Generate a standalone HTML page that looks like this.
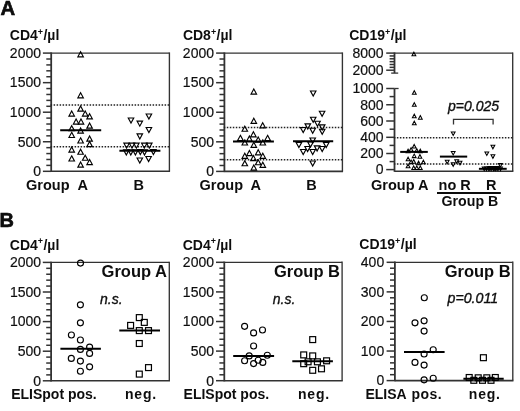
<!DOCTYPE html>
<html><head><meta charset="utf-8"><title>Figure</title>
<style>
html,body{margin:0;padding:0;background:#fff;width:520px;height:411px;overflow:hidden;}
svg{display:block;font-family:"Liberation Sans", sans-serif;}
</style></head><body>
<svg width="520" height="411" viewBox="0 0 520 411" font-family="Liberation Sans, sans-serif">
<rect width="520" height="411" fill="#fff"/>
<defs><filter id="b" x="-2%" y="-2%" width="104%" height="104%"><feGaussianBlur stdDeviation="0.35"/></filter></defs>
<g filter="url(#b)">
<text x="0.4" y="15.2" font-size="20.3" font-weight="bold" font-style="normal" text-anchor="start" fill="#111" stroke="#000" stroke-width="0.6">A</text>
<text x="-0.6" y="226.6" font-size="20" font-weight="bold" font-style="normal" text-anchor="start" fill="#111" stroke="#000" stroke-width="0.6">B</text>
<text x="9.8" y="40.2" font-size="14" font-weight="bold" fill="#111">CD4<tspan font-size="9" dx="0" dy="-5.3">+</tspan><tspan dx="0.4" dy="5.3">/µl</tspan></text>
<text x="182.9" y="40.2" font-size="14" font-weight="bold" fill="#111">CD8<tspan font-size="9" dx="0" dy="-5.3">+</tspan><tspan dx="0.4" dy="5.3">/µl</tspan></text>
<text x="349.2" y="40.2" font-size="14" font-weight="bold" fill="#111">CD19<tspan font-size="9" dx="0" dy="-5.3">+</tspan><tspan dx="0.4" dy="5.3">/µl</tspan></text>
<text x="9.8" y="249.5" font-size="14" font-weight="bold" fill="#111">CD4<tspan font-size="9" dx="0" dy="-5.3">+</tspan><tspan dx="0.4" dy="5.3">/µl</tspan></text>
<text x="182.7" y="249.5" font-size="14" font-weight="bold" fill="#111">CD4<tspan font-size="9" dx="0" dy="-5.3">+</tspan><tspan dx="0.4" dy="5.3">/µl</tspan></text>
<text x="359.3" y="249.3" font-size="14" font-weight="bold" fill="#111">CD19<tspan font-size="9" dx="0" dy="-5.3">+</tspan><tspan dx="0.4" dy="5.3">/µl</tspan></text>
<line x1="51.2" y1="53.1" x2="169.4" y2="53.1" stroke="#333" stroke-width="1.35"/>
<line x1="169.4" y1="52.43" x2="169.4" y2="171.3" stroke="#333" stroke-width="1.35"/>
<line x1="51.2" y1="171.3" x2="170.08" y2="171.3" stroke="#333" stroke-width="1.6"/>
<line x1="51.2" y1="52.4" x2="51.2" y2="172" stroke="#333" stroke-width="1.8"/>
<line x1="42.9" y1="53.1" x2="51.2" y2="53.1" stroke="#333" stroke-width="1.5"/>
<text x="41" y="57.9" font-size="14" font-weight="normal" font-style="normal" text-anchor="end" fill="#111" stroke="#111" stroke-width="0.2">2000</text>
<line x1="42.9" y1="82.65" x2="51.2" y2="82.65" stroke="#333" stroke-width="1.5"/>
<text x="41" y="87.45" font-size="14" font-weight="normal" font-style="normal" text-anchor="end" fill="#111" stroke="#111" stroke-width="0.2">1500</text>
<line x1="42.9" y1="112.2" x2="51.2" y2="112.2" stroke="#333" stroke-width="1.5"/>
<text x="41" y="117" font-size="14" font-weight="normal" font-style="normal" text-anchor="end" fill="#111" stroke="#111" stroke-width="0.2">1000</text>
<line x1="42.9" y1="141.75" x2="51.2" y2="141.75" stroke="#333" stroke-width="1.5"/>
<text x="41" y="146.55" font-size="14" font-weight="normal" font-style="normal" text-anchor="end" fill="#111" stroke="#111" stroke-width="0.2">500</text>
<line x1="42.9" y1="171.3" x2="51.2" y2="171.3" stroke="#333" stroke-width="1.5"/>
<text x="41" y="176.1" font-size="14" font-weight="normal" font-style="normal" text-anchor="end" fill="#111" stroke="#111" stroke-width="0.2">0</text>
<line x1="46.3" y1="59.01" x2="51.2" y2="59.01" stroke="#333" stroke-width="1.5"/>
<line x1="46.3" y1="64.92" x2="51.2" y2="64.92" stroke="#333" stroke-width="1.5"/>
<line x1="46.3" y1="70.83" x2="51.2" y2="70.83" stroke="#333" stroke-width="1.5"/>
<line x1="46.3" y1="76.74" x2="51.2" y2="76.74" stroke="#333" stroke-width="1.5"/>
<line x1="46.3" y1="88.56" x2="51.2" y2="88.56" stroke="#333" stroke-width="1.5"/>
<line x1="46.3" y1="94.47" x2="51.2" y2="94.47" stroke="#333" stroke-width="1.5"/>
<line x1="46.3" y1="100.38" x2="51.2" y2="100.38" stroke="#333" stroke-width="1.5"/>
<line x1="46.3" y1="106.29" x2="51.2" y2="106.29" stroke="#333" stroke-width="1.5"/>
<line x1="46.3" y1="118.11" x2="51.2" y2="118.11" stroke="#333" stroke-width="1.5"/>
<line x1="46.3" y1="124.02" x2="51.2" y2="124.02" stroke="#333" stroke-width="1.5"/>
<line x1="46.3" y1="129.93" x2="51.2" y2="129.93" stroke="#333" stroke-width="1.5"/>
<line x1="46.3" y1="135.84" x2="51.2" y2="135.84" stroke="#333" stroke-width="1.5"/>
<line x1="46.3" y1="147.66" x2="51.2" y2="147.66" stroke="#333" stroke-width="1.5"/>
<line x1="46.3" y1="153.57" x2="51.2" y2="153.57" stroke="#333" stroke-width="1.5"/>
<line x1="46.3" y1="159.48" x2="51.2" y2="159.48" stroke="#333" stroke-width="1.5"/>
<line x1="46.3" y1="165.39" x2="51.2" y2="165.39" stroke="#333" stroke-width="1.5"/>
<line x1="50.6" y1="105.1" x2="169.4" y2="105.1" stroke="#222" stroke-width="1.5" stroke-dasharray="1.5 1.5"/>
<line x1="50.6" y1="146.7" x2="169.4" y2="146.7" stroke="#222" stroke-width="1.5" stroke-dasharray="1.5 1.5"/>
<path d="M80.6 51.75L83.35 56.85L77.85 56.85Z" fill="none" stroke="#000" stroke-width="1.15" stroke-linejoin="miter"/>
<path d="M80.6 92.75L83.35 97.85L77.85 97.85Z" fill="none" stroke="#000" stroke-width="1.15" stroke-linejoin="miter"/>
<path d="M80.6 106.05L83.35 111.15L77.85 111.15Z" fill="none" stroke="#000" stroke-width="1.15" stroke-linejoin="miter"/>
<path d="M71.7 110.95L74.45 116.05L68.95 116.05Z" fill="none" stroke="#000" stroke-width="1.15" stroke-linejoin="miter"/>
<path d="M85.2 110.95L87.95 116.05L82.45 116.05Z" fill="none" stroke="#000" stroke-width="1.15" stroke-linejoin="miter"/>
<path d="M89.6 113.75L92.35 118.85L86.85 118.85Z" fill="none" stroke="#000" stroke-width="1.15" stroke-linejoin="miter"/>
<path d="M76.1 118.95L78.85 124.05L73.35 124.05Z" fill="none" stroke="#000" stroke-width="1.15" stroke-linejoin="miter"/>
<path d="M81 118.95L83.75 124.05L78.25 124.05Z" fill="none" stroke="#000" stroke-width="1.15" stroke-linejoin="miter"/>
<path d="M89.6 123.05L92.35 128.15L86.85 128.15Z" fill="none" stroke="#000" stroke-width="1.15" stroke-linejoin="miter"/>
<path d="M71.7 125.65L74.45 130.75L68.95 130.75Z" fill="none" stroke="#000" stroke-width="1.15" stroke-linejoin="miter"/>
<path d="M80.6 127.95L83.35 133.05L77.85 133.05Z" fill="none" stroke="#000" stroke-width="1.15" stroke-linejoin="miter"/>
<path d="M71.7 132.35L74.45 137.45L68.95 137.45Z" fill="none" stroke="#000" stroke-width="1.15" stroke-linejoin="miter"/>
<path d="M89.6 136.05L92.35 141.15L86.85 141.15Z" fill="none" stroke="#000" stroke-width="1.15" stroke-linejoin="miter"/>
<path d="M80.6 137.85L83.35 142.95L77.85 142.95Z" fill="none" stroke="#000" stroke-width="1.15" stroke-linejoin="miter"/>
<path d="M89.6 141.55L92.35 146.65L86.85 146.65Z" fill="none" stroke="#000" stroke-width="1.15" stroke-linejoin="miter"/>
<path d="M71.7 146.95L74.45 152.05L68.95 152.05Z" fill="none" stroke="#000" stroke-width="1.15" stroke-linejoin="miter"/>
<path d="M80.6 149.15L83.35 154.25L77.85 154.25Z" fill="none" stroke="#000" stroke-width="1.15" stroke-linejoin="miter"/>
<path d="M71.7 155.85L74.45 160.95L68.95 160.95Z" fill="none" stroke="#000" stroke-width="1.15" stroke-linejoin="miter"/>
<path d="M85.2 155.15L87.95 160.25L82.45 160.25Z" fill="none" stroke="#000" stroke-width="1.15" stroke-linejoin="miter"/>
<path d="M89.6 159.45L92.35 164.55L86.85 164.55Z" fill="none" stroke="#000" stroke-width="1.15" stroke-linejoin="miter"/>
<path d="M80.6 162.05L83.35 167.15L77.85 167.15Z" fill="none" stroke="#000" stroke-width="1.15" stroke-linejoin="miter"/>
<line x1="60.2" y1="130.2" x2="101.2" y2="130.2" stroke="#000" stroke-width="2"/>
<path d="M146.15 113.95L151.65 113.95L148.9 119.05Z" fill="none" stroke="#000" stroke-width="1.15"/>
<path d="M128.25 117.95L133.75 117.95L131 123.05Z" fill="none" stroke="#000" stroke-width="1.15"/>
<path d="M137.05 121.05L142.55 121.05L139.8 126.15Z" fill="none" stroke="#000" stroke-width="1.15"/>
<path d="M146.15 127.45L151.65 127.45L148.9 132.55Z" fill="none" stroke="#000" stroke-width="1.15"/>
<path d="M137.05 133.85L142.55 133.85L139.8 138.95Z" fill="none" stroke="#000" stroke-width="1.15"/>
<path d="M123.85 143.05L129.35 143.05L126.6 148.15Z" fill="none" stroke="#000" stroke-width="1.15"/>
<path d="M129.25 143.05L134.75 143.05L132 148.15Z" fill="none" stroke="#000" stroke-width="1.15"/>
<path d="M133.65 143.05L139.15 143.05L136.4 148.15Z" fill="none" stroke="#000" stroke-width="1.15"/>
<path d="M141.55 143.05L147.05 143.05L144.3 148.15Z" fill="none" stroke="#000" stroke-width="1.15"/>
<path d="M146.55 143.05L152.05 143.05L149.3 148.15Z" fill="none" stroke="#000" stroke-width="1.15"/>
<path d="M123.55 149.85L129.05 149.85L126.3 154.95Z" fill="none" stroke="#000" stroke-width="1.15"/>
<path d="M128.05 149.85L133.55 149.85L130.8 154.95Z" fill="none" stroke="#000" stroke-width="1.15"/>
<path d="M132.65 149.85L138.15 149.85L135.4 154.95Z" fill="none" stroke="#000" stroke-width="1.15"/>
<path d="M137.55 149.45L143.05 149.45L140.3 154.55Z" fill="none" stroke="#000" stroke-width="1.15"/>
<path d="M141.75 149.85L147.25 149.85L144.5 154.95Z" fill="none" stroke="#000" stroke-width="1.15"/>
<path d="M150.65 149.45L156.15 149.45L153.4 154.55Z" fill="none" stroke="#000" stroke-width="1.15"/>
<path d="M137.05 157.95L142.55 157.95L139.8 163.05Z" fill="none" stroke="#000" stroke-width="1.15"/>
<path d="M145.85 156.45L151.35 156.45L148.6 161.55Z" fill="none" stroke="#000" stroke-width="1.15"/>
<line x1="119.4" y1="150.8" x2="160.4" y2="150.8" stroke="#000" stroke-width="2"/>
<text x="26" y="189.8" font-size="14.5" font-weight="bold" font-style="normal" text-anchor="start" fill="#111">Group</text>
<text x="77.4" y="189.8" font-size="14.5" font-weight="bold" font-style="normal" text-anchor="start" fill="#111">A</text>
<text x="133.4" y="189.8" font-size="14.5" font-weight="bold" font-style="normal" text-anchor="start" fill="#111">B</text>
<line x1="224.4" y1="53.1" x2="342.4" y2="53.1" stroke="#333" stroke-width="1.35"/>
<line x1="342.4" y1="52.43" x2="342.4" y2="171.4" stroke="#333" stroke-width="1.35"/>
<line x1="224.4" y1="171.4" x2="343.07" y2="171.4" stroke="#333" stroke-width="1.6"/>
<line x1="224.4" y1="52.4" x2="224.4" y2="172.1" stroke="#333" stroke-width="1.8"/>
<line x1="216.1" y1="53.1" x2="224.4" y2="53.1" stroke="#333" stroke-width="1.5"/>
<text x="214" y="57.9" font-size="14" font-weight="normal" font-style="normal" text-anchor="end" fill="#111" stroke="#111" stroke-width="0.2">2000</text>
<line x1="216.1" y1="82.68" x2="224.4" y2="82.68" stroke="#333" stroke-width="1.5"/>
<text x="214" y="87.48" font-size="14" font-weight="normal" font-style="normal" text-anchor="end" fill="#111" stroke="#111" stroke-width="0.2">1500</text>
<line x1="216.1" y1="112.25" x2="224.4" y2="112.25" stroke="#333" stroke-width="1.5"/>
<text x="214" y="117.05" font-size="14" font-weight="normal" font-style="normal" text-anchor="end" fill="#111" stroke="#111" stroke-width="0.2">1000</text>
<line x1="216.1" y1="141.83" x2="224.4" y2="141.83" stroke="#333" stroke-width="1.5"/>
<text x="214" y="146.63" font-size="14" font-weight="normal" font-style="normal" text-anchor="end" fill="#111" stroke="#111" stroke-width="0.2">500</text>
<line x1="216.1" y1="171.4" x2="224.4" y2="171.4" stroke="#333" stroke-width="1.5"/>
<text x="214" y="176.2" font-size="14" font-weight="normal" font-style="normal" text-anchor="end" fill="#111" stroke="#111" stroke-width="0.2">0</text>
<line x1="219.5" y1="59.02" x2="224.4" y2="59.02" stroke="#333" stroke-width="1.5"/>
<line x1="219.5" y1="64.93" x2="224.4" y2="64.93" stroke="#333" stroke-width="1.5"/>
<line x1="219.5" y1="70.84" x2="224.4" y2="70.84" stroke="#333" stroke-width="1.5"/>
<line x1="219.5" y1="76.76" x2="224.4" y2="76.76" stroke="#333" stroke-width="1.5"/>
<line x1="219.5" y1="88.59" x2="224.4" y2="88.59" stroke="#333" stroke-width="1.5"/>
<line x1="219.5" y1="94.51" x2="224.4" y2="94.51" stroke="#333" stroke-width="1.5"/>
<line x1="219.5" y1="100.42" x2="224.4" y2="100.42" stroke="#333" stroke-width="1.5"/>
<line x1="219.5" y1="106.34" x2="224.4" y2="106.34" stroke="#333" stroke-width="1.5"/>
<line x1="219.5" y1="118.17" x2="224.4" y2="118.17" stroke="#333" stroke-width="1.5"/>
<line x1="219.5" y1="124.08" x2="224.4" y2="124.08" stroke="#333" stroke-width="1.5"/>
<line x1="219.5" y1="130" x2="224.4" y2="130" stroke="#333" stroke-width="1.5"/>
<line x1="219.5" y1="135.91" x2="224.4" y2="135.91" stroke="#333" stroke-width="1.5"/>
<line x1="219.5" y1="147.74" x2="224.4" y2="147.74" stroke="#333" stroke-width="1.5"/>
<line x1="219.5" y1="153.66" x2="224.4" y2="153.66" stroke="#333" stroke-width="1.5"/>
<line x1="219.5" y1="159.57" x2="224.4" y2="159.57" stroke="#333" stroke-width="1.5"/>
<line x1="219.5" y1="165.49" x2="224.4" y2="165.49" stroke="#333" stroke-width="1.5"/>
<line x1="223.8" y1="127.4" x2="342.4" y2="127.4" stroke="#222" stroke-width="1.5" stroke-dasharray="1.5 1.5"/>
<line x1="223.8" y1="159.8" x2="342.4" y2="159.8" stroke="#222" stroke-width="1.5" stroke-dasharray="1.5 1.5"/>
<path d="M253.8 88.95L256.55 94.05L251.05 94.05Z" fill="none" stroke="#000" stroke-width="1.15" stroke-linejoin="miter"/>
<path d="M253.8 118.25L256.55 123.35L251.05 123.35Z" fill="none" stroke="#000" stroke-width="1.15" stroke-linejoin="miter"/>
<path d="M262.7 122.75L265.45 127.85L259.95 127.85Z" fill="none" stroke="#000" stroke-width="1.15" stroke-linejoin="miter"/>
<path d="M244.8 126.15L247.55 131.25L242.05 131.25Z" fill="none" stroke="#000" stroke-width="1.15" stroke-linejoin="miter"/>
<path d="M253.4 131.75L256.15 136.85L250.65 136.85Z" fill="none" stroke="#000" stroke-width="1.15" stroke-linejoin="miter"/>
<path d="M240.4 135.35L243.15 140.45L237.65 140.45Z" fill="none" stroke="#000" stroke-width="1.15" stroke-linejoin="miter"/>
<path d="M249.4 136.05L252.15 141.15L246.65 141.15Z" fill="none" stroke="#000" stroke-width="1.15" stroke-linejoin="miter"/>
<path d="M258.2 136.95L260.95 142.05L255.45 142.05Z" fill="none" stroke="#000" stroke-width="1.15" stroke-linejoin="miter"/>
<path d="M267.6 135.35L270.35 140.45L264.85 140.45Z" fill="none" stroke="#000" stroke-width="1.15" stroke-linejoin="miter"/>
<path d="M244.8 139.85L247.55 144.95L242.05 144.95Z" fill="none" stroke="#000" stroke-width="1.15" stroke-linejoin="miter"/>
<path d="M262.8 139.85L265.55 144.95L260.05 144.95Z" fill="none" stroke="#000" stroke-width="1.15" stroke-linejoin="miter"/>
<path d="M253.8 142.25L256.55 147.35L251.05 147.35Z" fill="none" stroke="#000" stroke-width="1.15" stroke-linejoin="miter"/>
<path d="M249.4 150.45L252.15 155.55L246.65 155.55Z" fill="none" stroke="#000" stroke-width="1.15" stroke-linejoin="miter"/>
<path d="M258.2 149.75L260.95 154.85L255.45 154.85Z" fill="none" stroke="#000" stroke-width="1.15" stroke-linejoin="miter"/>
<path d="M244.8 153.25L247.55 158.35L242.05 158.35Z" fill="none" stroke="#000" stroke-width="1.15" stroke-linejoin="miter"/>
<path d="M262.8 153.25L265.55 158.35L260.05 158.35Z" fill="none" stroke="#000" stroke-width="1.15" stroke-linejoin="miter"/>
<path d="M253.4 155.45L256.15 160.55L250.65 160.55Z" fill="none" stroke="#000" stroke-width="1.15" stroke-linejoin="miter"/>
<path d="M258.2 159.65L260.95 164.75L255.45 164.75Z" fill="none" stroke="#000" stroke-width="1.15" stroke-linejoin="miter"/>
<path d="M244.8 160.65L247.55 165.75L242.05 165.75Z" fill="none" stroke="#000" stroke-width="1.15" stroke-linejoin="miter"/>
<path d="M262.8 162.25L265.55 167.35L260.05 167.35Z" fill="none" stroke="#000" stroke-width="1.15" stroke-linejoin="miter"/>
<path d="M253.8 164.95L256.55 170.05L251.05 170.05Z" fill="none" stroke="#000" stroke-width="1.15" stroke-linejoin="miter"/>
<line x1="233" y1="141.4" x2="273.9" y2="141.4" stroke="#000" stroke-width="2"/>
<path d="M310.45 90.95L315.95 90.95L313.2 96.05Z" fill="none" stroke="#000" stroke-width="1.15"/>
<path d="M319.35 111.25L324.85 111.25L322.1 116.35Z" fill="none" stroke="#000" stroke-width="1.15"/>
<path d="M310.45 117.25L315.95 117.25L313.2 122.35Z" fill="none" stroke="#000" stroke-width="1.15"/>
<path d="M314.75 121.25L320.25 121.25L317.5 126.35Z" fill="none" stroke="#000" stroke-width="1.15"/>
<path d="M305.05 123.85L310.55 123.85L307.8 128.95Z" fill="none" stroke="#000" stroke-width="1.15"/>
<path d="M319.45 124.85L324.95 124.85L322.2 129.95Z" fill="none" stroke="#000" stroke-width="1.15"/>
<path d="M300.45 127.45L305.95 127.45L303.2 132.55Z" fill="none" stroke="#000" stroke-width="1.15"/>
<path d="M309.95 128.25L315.45 128.25L312.7 133.35Z" fill="none" stroke="#000" stroke-width="1.15"/>
<path d="M319.45 129.25L324.95 129.25L322.2 134.35Z" fill="none" stroke="#000" stroke-width="1.15"/>
<path d="M309.95 137.95L315.45 137.95L312.7 143.05Z" fill="none" stroke="#000" stroke-width="1.15"/>
<path d="M296.15 142.45L301.65 142.45L298.9 147.55Z" fill="none" stroke="#000" stroke-width="1.15"/>
<path d="M307.75 141.95L313.25 141.95L310.5 147.05Z" fill="none" stroke="#000" stroke-width="1.15"/>
<path d="M323.45 142.45L328.95 142.45L326.2 147.55Z" fill="none" stroke="#000" stroke-width="1.15"/>
<path d="M304.85 146.45L310.35 146.45L307.6 151.55Z" fill="none" stroke="#000" stroke-width="1.15"/>
<path d="M314.35 145.85L319.85 145.85L317.1 150.95Z" fill="none" stroke="#000" stroke-width="1.15"/>
<path d="M319.45 146.45L324.95 146.45L322.2 151.55Z" fill="none" stroke="#000" stroke-width="1.15"/>
<path d="M300.45 149.45L305.95 149.45L303.2 154.55Z" fill="none" stroke="#000" stroke-width="1.15"/>
<path d="M309.95 149.45L315.45 149.45L312.7 154.55Z" fill="none" stroke="#000" stroke-width="1.15"/>
<path d="M309.95 160.95L315.45 160.95L312.7 166.05Z" fill="none" stroke="#000" stroke-width="1.15"/>
<line x1="293" y1="141.3" x2="333.2" y2="141.3" stroke="#000" stroke-width="2"/>
<text x="199.5" y="189.8" font-size="14.5" font-weight="bold" font-style="normal" text-anchor="start" fill="#111">Group</text>
<text x="250.6" y="189.8" font-size="14.5" font-weight="bold" font-style="normal" text-anchor="start" fill="#111">A</text>
<text x="306.3" y="189.8" font-size="14.5" font-weight="bold" font-style="normal" text-anchor="start" fill="#111">B</text>
<line x1="394.5" y1="53.1" x2="512.7" y2="53.1" stroke="#333" stroke-width="1.35"/>
<line x1="512.7" y1="52.43" x2="512.7" y2="171.3" stroke="#333" stroke-width="1.35"/>
<line x1="394.5" y1="171.3" x2="513.38" y2="171.3" stroke="#333" stroke-width="1.6"/>
<line x1="394.5" y1="52.4" x2="394.5" y2="73.1" stroke="#333" stroke-width="1.8"/>
<line x1="391.2" y1="73.1" x2="398.2" y2="73.1" stroke="#333" stroke-width="1.3"/>
<line x1="394.5" y1="88.5" x2="394.5" y2="171.8" stroke="#333" stroke-width="1.8"/>
<line x1="394.5" y1="88.5" x2="398.6" y2="88.5" stroke="#333" stroke-width="1.3"/>
<line x1="386.2" y1="53.1" x2="394.5" y2="53.1" stroke="#333" stroke-width="1.5"/>
<text x="383.6" y="57.9" font-size="14" font-weight="normal" font-style="normal" text-anchor="end" fill="#111" stroke="#111" stroke-width="0.2">8000</text>
<line x1="386.2" y1="70.2" x2="394.5" y2="70.2" stroke="#333" stroke-width="1.5"/>
<text x="383.6" y="75" font-size="14" font-weight="normal" font-style="normal" text-anchor="end" fill="#111" stroke="#111" stroke-width="0.2">2000</text>
<line x1="386.2" y1="88.5" x2="394.5" y2="88.5" stroke="#333" stroke-width="1.5"/>
<text x="383.6" y="93.3" font-size="14" font-weight="normal" font-style="normal" text-anchor="end" fill="#111" stroke="#111" stroke-width="0.2">1000</text>
<line x1="386.2" y1="104.75" x2="394.5" y2="104.75" stroke="#333" stroke-width="1.5"/>
<text x="383.6" y="109.55" font-size="14" font-weight="normal" font-style="normal" text-anchor="end" fill="#111" stroke="#111" stroke-width="0.2">800</text>
<line x1="386.2" y1="121" x2="394.5" y2="121" stroke="#333" stroke-width="1.5"/>
<text x="383.6" y="125.8" font-size="14" font-weight="normal" font-style="normal" text-anchor="end" fill="#111" stroke="#111" stroke-width="0.2">600</text>
<line x1="386.2" y1="137.3" x2="394.5" y2="137.3" stroke="#333" stroke-width="1.5"/>
<text x="383.6" y="142.1" font-size="14" font-weight="normal" font-style="normal" text-anchor="end" fill="#111" stroke="#111" stroke-width="0.2">400</text>
<line x1="386.2" y1="153.5" x2="394.5" y2="153.5" stroke="#333" stroke-width="1.5"/>
<text x="383.6" y="158.3" font-size="14" font-weight="normal" font-style="normal" text-anchor="end" fill="#111" stroke="#111" stroke-width="0.2">200</text>
<line x1="386.2" y1="169.6" x2="394.5" y2="169.6" stroke="#333" stroke-width="1.5"/>
<text x="383.6" y="174.4" font-size="14" font-weight="normal" font-style="normal" text-anchor="end" fill="#111" stroke="#111" stroke-width="0.2">0</text>
<line x1="389.6" y1="55.95" x2="394.5" y2="55.95" stroke="#333" stroke-width="1.5"/>
<line x1="389.6" y1="58.8" x2="394.5" y2="58.8" stroke="#333" stroke-width="1.5"/>
<line x1="389.6" y1="61.65" x2="394.5" y2="61.65" stroke="#333" stroke-width="1.5"/>
<line x1="389.6" y1="64.5" x2="394.5" y2="64.5" stroke="#333" stroke-width="1.5"/>
<line x1="389.6" y1="67.35" x2="394.5" y2="67.35" stroke="#333" stroke-width="1.5"/>
<line x1="389.6" y1="96.6" x2="394.5" y2="96.6" stroke="#333" stroke-width="1.5"/>
<line x1="389.6" y1="112.9" x2="394.5" y2="112.9" stroke="#333" stroke-width="1.5"/>
<line x1="389.6" y1="129.2" x2="394.5" y2="129.2" stroke="#333" stroke-width="1.5"/>
<line x1="389.6" y1="145.4" x2="394.5" y2="145.4" stroke="#333" stroke-width="1.5"/>
<line x1="389.6" y1="161.6" x2="394.5" y2="161.6" stroke="#333" stroke-width="1.5"/>
<line x1="393.9" y1="137.7" x2="512.7" y2="137.7" stroke="#222" stroke-width="1.5" stroke-dasharray="1.5 1.5"/>
<line x1="393.9" y1="164" x2="512.7" y2="164" stroke="#222" stroke-width="1.5" stroke-dasharray="1.5 1.5"/>
<path d="M413.9 52.2L415.8 55.8L412 55.8Z" fill="none" stroke="#000" stroke-width="1.05" stroke-linejoin="miter"/>
<path d="M414.3 90.7L416.2 94.3L412.4 94.3Z" fill="none" stroke="#000" stroke-width="1.05" stroke-linejoin="miter"/>
<path d="M414.3 102.7L416.2 106.3L412.4 106.3Z" fill="none" stroke="#000" stroke-width="1.05" stroke-linejoin="miter"/>
<path d="M414.3 114.2L416.2 117.8L412.4 117.8Z" fill="none" stroke="#000" stroke-width="1.05" stroke-linejoin="miter"/>
<path d="M420.3 115.6L422.2 119.2L418.4 119.2Z" fill="none" stroke="#000" stroke-width="1.05" stroke-linejoin="miter"/>
<path d="M414.3 121.2L416.2 124.8L412.4 124.8Z" fill="none" stroke="#000" stroke-width="1.05" stroke-linejoin="miter"/>
<path d="M414.2 144.4L416.1 148L412.3 148Z" fill="none" stroke="#000" stroke-width="1.05" stroke-linejoin="miter"/>
<path d="M408.1 149.2L410 152.8L406.2 152.8Z" fill="none" stroke="#000" stroke-width="1.05" stroke-linejoin="miter"/>
<path d="M411.1 147.7L413 151.3L409.2 151.3Z" fill="none" stroke="#000" stroke-width="1.05" stroke-linejoin="miter"/>
<path d="M416.8 148.7L418.7 152.3L414.9 152.3Z" fill="none" stroke="#000" stroke-width="1.05" stroke-linejoin="miter"/>
<path d="M420.3 149.2L422.2 152.8L418.4 152.8Z" fill="none" stroke="#000" stroke-width="1.05" stroke-linejoin="miter"/>
<path d="M414.2 154L416.1 157.6L412.3 157.6Z" fill="none" stroke="#000" stroke-width="1.05" stroke-linejoin="miter"/>
<path d="M419.9 154.6L421.8 158.2L418 158.2Z" fill="none" stroke="#000" stroke-width="1.05" stroke-linejoin="miter"/>
<path d="M408.1 157.2L410 160.8L406.2 160.8Z" fill="none" stroke="#000" stroke-width="1.05" stroke-linejoin="miter"/>
<path d="M411.1 160L413 163.6L409.2 163.6Z" fill="none" stroke="#000" stroke-width="1.05" stroke-linejoin="miter"/>
<path d="M413.7 159.6L415.6 163.2L411.8 163.2Z" fill="none" stroke="#000" stroke-width="1.05" stroke-linejoin="miter"/>
<path d="M423.4 160.2L425.3 163.8L421.5 163.8Z" fill="none" stroke="#000" stroke-width="1.05" stroke-linejoin="miter"/>
<path d="M418.6 161.2L420.5 164.8L416.7 164.8Z" fill="none" stroke="#000" stroke-width="1.05" stroke-linejoin="miter"/>
<path d="M408.1 164.2L410 167.8L406.2 167.8Z" fill="none" stroke="#000" stroke-width="1.05" stroke-linejoin="miter"/>
<path d="M413.7 165.9L415.6 169.5L411.8 169.5Z" fill="none" stroke="#000" stroke-width="1.05" stroke-linejoin="miter"/>
<path d="M416.8 165.9L418.7 169.5L414.9 169.5Z" fill="none" stroke="#000" stroke-width="1.05" stroke-linejoin="miter"/>
<path d="M420.3 165.9L422.2 169.5L418.4 169.5Z" fill="none" stroke="#000" stroke-width="1.05" stroke-linejoin="miter"/>
<line x1="400.2" y1="151.9" x2="427.8" y2="151.9" stroke="#000" stroke-width="2"/>
<path d="M451.3 131.9L455.1 131.9L453.2 135.5Z" fill="none" stroke="#000" stroke-width="1.05"/>
<path d="M451.3 151.4L455.1 151.4L453.2 155Z" fill="none" stroke="#000" stroke-width="1.05"/>
<path d="M445.3 160.2L449.1 160.2L447.2 163.8Z" fill="none" stroke="#000" stroke-width="1.05"/>
<path d="M451.3 162.7L455.1 162.7L453.2 166.3Z" fill="none" stroke="#000" stroke-width="1.05"/>
<path d="M454.8 159.7L458.6 159.7L456.7 163.3Z" fill="none" stroke="#000" stroke-width="1.05"/>
<path d="M458.1 161.2L461.9 161.2L460 164.8Z" fill="none" stroke="#000" stroke-width="1.05"/>
<line x1="439.9" y1="156.6" x2="467.2" y2="156.6" stroke="#000" stroke-width="2"/>
<path d="M491 145.2L494.8 145.2L492.9 148.8Z" fill="none" stroke="#000" stroke-width="1.05"/>
<path d="M484.9 151.9L488.7 151.9L486.8 155.5Z" fill="none" stroke="#000" stroke-width="1.05"/>
<path d="M491 154.7L494.8 154.7L492.9 158.3Z" fill="none" stroke="#000" stroke-width="1.05"/>
<path d="M498.4 163.6L502.2 163.6L500.3 167.2Z" fill="none" stroke="#000" stroke-width="1.05"/>
<path d="M482.3 167.1L486.1 167.1L484.2 170.7Z" fill="none" stroke="#000" stroke-width="1.05"/>
<path d="M484.6 167L488.4 167L486.5 170.6Z" fill="none" stroke="#000" stroke-width="1.05"/>
<path d="M486.9 167.1L490.7 167.1L488.8 170.7Z" fill="none" stroke="#000" stroke-width="1.05"/>
<path d="M489.2 167L493 167L491.1 170.6Z" fill="none" stroke="#000" stroke-width="1.05"/>
<path d="M491.5 167.1L495.3 167.1L493.4 170.7Z" fill="none" stroke="#000" stroke-width="1.05"/>
<path d="M493.8 167L497.6 167L495.7 170.6Z" fill="none" stroke="#000" stroke-width="1.05"/>
<path d="M496.1 167.1L499.9 167.1L498 170.7Z" fill="none" stroke="#000" stroke-width="1.05"/>
<path d="M498.6 167L502.4 167L500.5 170.6Z" fill="none" stroke="#000" stroke-width="1.05"/>
<path d="M487.9 166.6L491.7 166.6L489.8 170.2Z" fill="none" stroke="#000" stroke-width="1.05"/>
<path d="M492.6 166.5L496.4 166.5L494.5 170.1Z" fill="none" stroke="#000" stroke-width="1.05"/>
<path d="M495.1 166.6L498.9 166.6L497 170.2Z" fill="none" stroke="#000" stroke-width="1.05"/>
<line x1="478.9" y1="168.8" x2="506.7" y2="168.8" stroke="#000" stroke-width="2"/>
<text x="448" y="111.3" font-size="14" font-weight="normal" font-style="italic" text-anchor="start" fill="#111" stroke="#111" stroke-width="0.35">p=0.025</text>
<path d="M453.5 124.4V119.3H493.1V124.4" fill="none" stroke="#333" stroke-width="1.3"/>
<text x="371" y="189.7" font-size="14.5" font-weight="bold" font-style="normal" text-anchor="start" fill="#111">Group A</text>
<text x="438.6" y="189.7" font-size="14.5" font-weight="bold" font-style="normal" text-anchor="start" fill="#111">no R</text>
<text x="486.1" y="189.7" font-size="14.5" font-weight="bold" font-style="normal" text-anchor="start" fill="#111">R</text>
<line x1="437" y1="192.9" x2="500.8" y2="192.9" stroke="#111" stroke-width="2"/>
<text x="441.5" y="205.6" font-size="14.2" font-weight="bold" font-style="normal" text-anchor="start" fill="#111">Group B</text>
<line x1="51.1" y1="262.4" x2="169.3" y2="262.4" stroke="#333" stroke-width="1.35"/>
<line x1="169.3" y1="261.72" x2="169.3" y2="380.8" stroke="#333" stroke-width="1.35"/>
<line x1="51.1" y1="380.8" x2="169.98" y2="380.8" stroke="#333" stroke-width="1.6"/>
<line x1="51.1" y1="261.7" x2="51.1" y2="381.5" stroke="#333" stroke-width="1.8"/>
<line x1="42.8" y1="262.4" x2="51.1" y2="262.4" stroke="#333" stroke-width="1.5"/>
<text x="41.1" y="267.2" font-size="14" font-weight="normal" font-style="normal" text-anchor="end" fill="#111" stroke="#111" stroke-width="0.2">2000</text>
<line x1="42.8" y1="292" x2="51.1" y2="292" stroke="#333" stroke-width="1.5"/>
<text x="41.1" y="296.8" font-size="14" font-weight="normal" font-style="normal" text-anchor="end" fill="#111" stroke="#111" stroke-width="0.2">1500</text>
<line x1="42.8" y1="321.6" x2="51.1" y2="321.6" stroke="#333" stroke-width="1.5"/>
<text x="41.1" y="326.4" font-size="14" font-weight="normal" font-style="normal" text-anchor="end" fill="#111" stroke="#111" stroke-width="0.2">1000</text>
<line x1="42.8" y1="351.2" x2="51.1" y2="351.2" stroke="#333" stroke-width="1.5"/>
<text x="41.1" y="356" font-size="14" font-weight="normal" font-style="normal" text-anchor="end" fill="#111" stroke="#111" stroke-width="0.2">500</text>
<line x1="42.8" y1="380.8" x2="51.1" y2="380.8" stroke="#333" stroke-width="1.5"/>
<text x="41.1" y="385.6" font-size="14" font-weight="normal" font-style="normal" text-anchor="end" fill="#111" stroke="#111" stroke-width="0.2">0</text>
<line x1="46.2" y1="268.32" x2="51.1" y2="268.32" stroke="#333" stroke-width="1.5"/>
<line x1="46.2" y1="274.24" x2="51.1" y2="274.24" stroke="#333" stroke-width="1.5"/>
<line x1="46.2" y1="280.16" x2="51.1" y2="280.16" stroke="#333" stroke-width="1.5"/>
<line x1="46.2" y1="286.08" x2="51.1" y2="286.08" stroke="#333" stroke-width="1.5"/>
<line x1="46.2" y1="297.92" x2="51.1" y2="297.92" stroke="#333" stroke-width="1.5"/>
<line x1="46.2" y1="303.84" x2="51.1" y2="303.84" stroke="#333" stroke-width="1.5"/>
<line x1="46.2" y1="309.76" x2="51.1" y2="309.76" stroke="#333" stroke-width="1.5"/>
<line x1="46.2" y1="315.68" x2="51.1" y2="315.68" stroke="#333" stroke-width="1.5"/>
<line x1="46.2" y1="327.52" x2="51.1" y2="327.52" stroke="#333" stroke-width="1.5"/>
<line x1="46.2" y1="333.44" x2="51.1" y2="333.44" stroke="#333" stroke-width="1.5"/>
<line x1="46.2" y1="339.36" x2="51.1" y2="339.36" stroke="#333" stroke-width="1.5"/>
<line x1="46.2" y1="345.28" x2="51.1" y2="345.28" stroke="#333" stroke-width="1.5"/>
<line x1="46.2" y1="357.12" x2="51.1" y2="357.12" stroke="#333" stroke-width="1.5"/>
<line x1="46.2" y1="363.04" x2="51.1" y2="363.04" stroke="#333" stroke-width="1.5"/>
<line x1="46.2" y1="368.96" x2="51.1" y2="368.96" stroke="#333" stroke-width="1.5"/>
<line x1="46.2" y1="374.88" x2="51.1" y2="374.88" stroke="#333" stroke-width="1.5"/>
<circle cx="80.5" cy="263.1" r="3" fill="none" stroke="#000" stroke-width="1.15"/>
<circle cx="80.4" cy="304.8" r="3" fill="none" stroke="#000" stroke-width="1.15"/>
<circle cx="80.4" cy="322.8" r="3" fill="none" stroke="#000" stroke-width="1.15"/>
<circle cx="71.4" cy="335" r="3" fill="none" stroke="#000" stroke-width="1.15"/>
<circle cx="80.4" cy="340" r="3" fill="none" stroke="#000" stroke-width="1.15"/>
<circle cx="89.6" cy="347.1" r="3" fill="none" stroke="#000" stroke-width="1.15"/>
<circle cx="80.4" cy="349.4" r="3" fill="none" stroke="#000" stroke-width="1.15"/>
<circle cx="89.6" cy="353.4" r="3" fill="none" stroke="#000" stroke-width="1.15"/>
<circle cx="71.3" cy="358.4" r="3" fill="none" stroke="#000" stroke-width="1.15"/>
<circle cx="80.4" cy="361.1" r="3" fill="none" stroke="#000" stroke-width="1.15"/>
<circle cx="89.6" cy="366.8" r="3" fill="none" stroke="#000" stroke-width="1.15"/>
<circle cx="80.4" cy="371.2" r="3" fill="none" stroke="#000" stroke-width="1.15"/>
<line x1="60.4" y1="348.7" x2="100.9" y2="348.7" stroke="#000" stroke-width="2"/>
<rect x="136.35" y="314.65" width="5.9" height="5.9" fill="none" stroke="#000" stroke-width="1.2"/>
<rect x="141.35" y="319.45" width="5.9" height="5.9" fill="none" stroke="#000" stroke-width="1.2"/>
<rect x="127.65" y="322.45" width="5.9" height="5.9" fill="none" stroke="#000" stroke-width="1.2"/>
<rect x="136.35" y="327.65" width="5.9" height="5.9" fill="none" stroke="#000" stroke-width="1.2"/>
<rect x="145.55" y="327.65" width="5.9" height="5.9" fill="none" stroke="#000" stroke-width="1.2"/>
<rect x="136.35" y="340.55" width="5.9" height="5.9" fill="none" stroke="#000" stroke-width="1.2"/>
<rect x="145.55" y="364.65" width="5.9" height="5.9" fill="none" stroke="#000" stroke-width="1.2"/>
<rect x="136.35" y="371.15" width="5.9" height="5.9" fill="none" stroke="#000" stroke-width="1.2"/>
<line x1="119.3" y1="330.5" x2="160" y2="330.5" stroke="#000" stroke-width="2"/>
<text x="101.6" y="276.6" font-size="16.5" font-weight="bold" font-style="normal" text-anchor="start" fill="#111">Group A</text>
<text x="100" y="303.5" font-size="14" font-weight="normal" font-style="italic" text-anchor="start" fill="#111" stroke="#111" stroke-width="0.35">n.s.</text>
<text x="11.2" y="398.8" font-size="14" font-weight="bold" font-style="normal" text-anchor="start" fill="#111">ELISpot pos.</text>
<text x="125" y="398.8" font-size="14" font-weight="bold" font-style="normal" text-anchor="start" fill="#111" letter-spacing="0.8">neg.</text>
<line x1="224.3" y1="262.3" x2="342.1" y2="262.3" stroke="#333" stroke-width="1.35"/>
<line x1="342.1" y1="261.62" x2="342.1" y2="380.7" stroke="#333" stroke-width="1.35"/>
<line x1="224.3" y1="380.7" x2="342.78" y2="380.7" stroke="#333" stroke-width="1.6"/>
<line x1="224.3" y1="261.6" x2="224.3" y2="381.4" stroke="#333" stroke-width="1.8"/>
<line x1="216" y1="262.3" x2="224.3" y2="262.3" stroke="#333" stroke-width="1.5"/>
<text x="214" y="267.1" font-size="14" font-weight="normal" font-style="normal" text-anchor="end" fill="#111" stroke="#111" stroke-width="0.2">2000</text>
<line x1="216" y1="291.9" x2="224.3" y2="291.9" stroke="#333" stroke-width="1.5"/>
<text x="214" y="296.7" font-size="14" font-weight="normal" font-style="normal" text-anchor="end" fill="#111" stroke="#111" stroke-width="0.2">1500</text>
<line x1="216" y1="321.5" x2="224.3" y2="321.5" stroke="#333" stroke-width="1.5"/>
<text x="214" y="326.3" font-size="14" font-weight="normal" font-style="normal" text-anchor="end" fill="#111" stroke="#111" stroke-width="0.2">1000</text>
<line x1="216" y1="351.1" x2="224.3" y2="351.1" stroke="#333" stroke-width="1.5"/>
<text x="214" y="355.9" font-size="14" font-weight="normal" font-style="normal" text-anchor="end" fill="#111" stroke="#111" stroke-width="0.2">500</text>
<line x1="216" y1="380.7" x2="224.3" y2="380.7" stroke="#333" stroke-width="1.5"/>
<text x="214" y="385.5" font-size="14" font-weight="normal" font-style="normal" text-anchor="end" fill="#111" stroke="#111" stroke-width="0.2">0</text>
<line x1="219.4" y1="268.22" x2="224.3" y2="268.22" stroke="#333" stroke-width="1.5"/>
<line x1="219.4" y1="274.14" x2="224.3" y2="274.14" stroke="#333" stroke-width="1.5"/>
<line x1="219.4" y1="280.06" x2="224.3" y2="280.06" stroke="#333" stroke-width="1.5"/>
<line x1="219.4" y1="285.98" x2="224.3" y2="285.98" stroke="#333" stroke-width="1.5"/>
<line x1="219.4" y1="297.82" x2="224.3" y2="297.82" stroke="#333" stroke-width="1.5"/>
<line x1="219.4" y1="303.74" x2="224.3" y2="303.74" stroke="#333" stroke-width="1.5"/>
<line x1="219.4" y1="309.66" x2="224.3" y2="309.66" stroke="#333" stroke-width="1.5"/>
<line x1="219.4" y1="315.58" x2="224.3" y2="315.58" stroke="#333" stroke-width="1.5"/>
<line x1="219.4" y1="327.42" x2="224.3" y2="327.42" stroke="#333" stroke-width="1.5"/>
<line x1="219.4" y1="333.34" x2="224.3" y2="333.34" stroke="#333" stroke-width="1.5"/>
<line x1="219.4" y1="339.26" x2="224.3" y2="339.26" stroke="#333" stroke-width="1.5"/>
<line x1="219.4" y1="345.18" x2="224.3" y2="345.18" stroke="#333" stroke-width="1.5"/>
<line x1="219.4" y1="357.02" x2="224.3" y2="357.02" stroke="#333" stroke-width="1.5"/>
<line x1="219.4" y1="362.94" x2="224.3" y2="362.94" stroke="#333" stroke-width="1.5"/>
<line x1="219.4" y1="368.86" x2="224.3" y2="368.86" stroke="#333" stroke-width="1.5"/>
<line x1="219.4" y1="374.78" x2="224.3" y2="374.78" stroke="#333" stroke-width="1.5"/>
<circle cx="244.6" cy="326.3" r="3" fill="none" stroke="#000" stroke-width="1.15"/>
<circle cx="253.6" cy="332.9" r="3" fill="none" stroke="#000" stroke-width="1.15"/>
<circle cx="262.5" cy="330" r="3" fill="none" stroke="#000" stroke-width="1.15"/>
<circle cx="253.6" cy="346" r="3" fill="none" stroke="#000" stroke-width="1.15"/>
<circle cx="249.2" cy="355.9" r="3" fill="none" stroke="#000" stroke-width="1.15"/>
<circle cx="267.3" cy="355.2" r="3" fill="none" stroke="#000" stroke-width="1.15"/>
<circle cx="244.6" cy="360.7" r="3" fill="none" stroke="#000" stroke-width="1.15"/>
<circle cx="258.2" cy="360.2" r="3" fill="none" stroke="#000" stroke-width="1.15"/>
<circle cx="253.6" cy="363.6" r="3" fill="none" stroke="#000" stroke-width="1.15"/>
<circle cx="262.8" cy="362.4" r="3" fill="none" stroke="#000" stroke-width="1.15"/>
<line x1="233.2" y1="355.9" x2="274.1" y2="355.9" stroke="#000" stroke-width="2"/>
<rect x="309.75" y="336.65" width="5.9" height="5.9" fill="none" stroke="#000" stroke-width="1.2"/>
<rect x="300.75" y="351.95" width="5.9" height="5.9" fill="none" stroke="#000" stroke-width="1.2"/>
<rect x="309.75" y="352.95" width="5.9" height="5.9" fill="none" stroke="#000" stroke-width="1.2"/>
<rect x="300.75" y="360.75" width="5.9" height="5.9" fill="none" stroke="#000" stroke-width="1.2"/>
<rect x="305.15" y="358.85" width="5.9" height="5.9" fill="none" stroke="#000" stroke-width="1.2"/>
<rect x="314.45" y="358.85" width="5.9" height="5.9" fill="none" stroke="#000" stroke-width="1.2"/>
<rect x="323.65" y="357.85" width="5.9" height="5.9" fill="none" stroke="#000" stroke-width="1.2"/>
<rect x="309.75" y="367.35" width="5.9" height="5.9" fill="none" stroke="#000" stroke-width="1.2"/>
<rect x="318.55" y="365.85" width="5.9" height="5.9" fill="none" stroke="#000" stroke-width="1.2"/>
<line x1="292.3" y1="361.2" x2="332.9" y2="361.2" stroke="#000" stroke-width="2"/>
<text x="274" y="276.6" font-size="16.5" font-weight="bold" font-style="normal" text-anchor="start" fill="#111">Group B</text>
<text x="272.8" y="303.5" font-size="14" font-weight="normal" font-style="italic" text-anchor="start" fill="#111" stroke="#111" stroke-width="0.35">n.s.</text>
<text x="183.6" y="398.8" font-size="14" font-weight="bold" font-style="normal" text-anchor="start" fill="#111">ELISpot pos.</text>
<text x="298" y="398.8" font-size="14" font-weight="bold" font-style="normal" text-anchor="start" fill="#111" letter-spacing="0.8">neg.</text>
<line x1="394.9" y1="262.3" x2="512.8" y2="262.3" stroke="#333" stroke-width="1.35"/>
<line x1="512.8" y1="261.62" x2="512.8" y2="380.6" stroke="#333" stroke-width="1.35"/>
<line x1="394.9" y1="380.6" x2="513.47" y2="380.6" stroke="#333" stroke-width="1.6"/>
<line x1="394.9" y1="261.6" x2="394.9" y2="381.3" stroke="#333" stroke-width="1.8"/>
<line x1="386.6" y1="262.3" x2="394.9" y2="262.3" stroke="#333" stroke-width="1.5"/>
<text x="384.2" y="267.1" font-size="14" font-weight="normal" font-style="normal" text-anchor="end" fill="#111" stroke="#111" stroke-width="0.2">400</text>
<line x1="386.6" y1="291.88" x2="394.9" y2="291.88" stroke="#333" stroke-width="1.5"/>
<text x="384.2" y="296.68" font-size="14" font-weight="normal" font-style="normal" text-anchor="end" fill="#111" stroke="#111" stroke-width="0.2">300</text>
<line x1="386.6" y1="321.45" x2="394.9" y2="321.45" stroke="#333" stroke-width="1.5"/>
<text x="384.2" y="326.25" font-size="14" font-weight="normal" font-style="normal" text-anchor="end" fill="#111" stroke="#111" stroke-width="0.2">200</text>
<line x1="386.6" y1="351.03" x2="394.9" y2="351.03" stroke="#333" stroke-width="1.5"/>
<text x="384.2" y="355.83" font-size="14" font-weight="normal" font-style="normal" text-anchor="end" fill="#111" stroke="#111" stroke-width="0.2">100</text>
<line x1="386.6" y1="380.6" x2="394.9" y2="380.6" stroke="#333" stroke-width="1.5"/>
<text x="384.2" y="385.4" font-size="14" font-weight="normal" font-style="normal" text-anchor="end" fill="#111" stroke="#111" stroke-width="0.2">0</text>
<line x1="390" y1="268.22" x2="394.9" y2="268.22" stroke="#333" stroke-width="1.5"/>
<line x1="390" y1="274.13" x2="394.9" y2="274.13" stroke="#333" stroke-width="1.5"/>
<line x1="390" y1="280.05" x2="394.9" y2="280.05" stroke="#333" stroke-width="1.5"/>
<line x1="390" y1="285.96" x2="394.9" y2="285.96" stroke="#333" stroke-width="1.5"/>
<line x1="390" y1="297.79" x2="394.9" y2="297.79" stroke="#333" stroke-width="1.5"/>
<line x1="390" y1="303.7" x2="394.9" y2="303.7" stroke="#333" stroke-width="1.5"/>
<line x1="390" y1="309.62" x2="394.9" y2="309.62" stroke="#333" stroke-width="1.5"/>
<line x1="390" y1="315.54" x2="394.9" y2="315.54" stroke="#333" stroke-width="1.5"/>
<line x1="390" y1="327.37" x2="394.9" y2="327.37" stroke="#333" stroke-width="1.5"/>
<line x1="390" y1="333.28" x2="394.9" y2="333.28" stroke="#333" stroke-width="1.5"/>
<line x1="390" y1="339.2" x2="394.9" y2="339.2" stroke="#333" stroke-width="1.5"/>
<line x1="390" y1="345.11" x2="394.9" y2="345.11" stroke="#333" stroke-width="1.5"/>
<line x1="390" y1="356.94" x2="394.9" y2="356.94" stroke="#333" stroke-width="1.5"/>
<line x1="390" y1="362.86" x2="394.9" y2="362.86" stroke="#333" stroke-width="1.5"/>
<line x1="390" y1="368.77" x2="394.9" y2="368.77" stroke="#333" stroke-width="1.5"/>
<line x1="390" y1="374.69" x2="394.9" y2="374.69" stroke="#333" stroke-width="1.5"/>
<circle cx="424.3" cy="297.7" r="3" fill="none" stroke="#000" stroke-width="1.15"/>
<circle cx="415" cy="322.8" r="3" fill="none" stroke="#000" stroke-width="1.15"/>
<circle cx="424.1" cy="320.8" r="3" fill="none" stroke="#000" stroke-width="1.15"/>
<circle cx="424.1" cy="331.1" r="3" fill="none" stroke="#000" stroke-width="1.15"/>
<circle cx="433.2" cy="349.7" r="3" fill="none" stroke="#000" stroke-width="1.15"/>
<circle cx="424.1" cy="354" r="3" fill="none" stroke="#000" stroke-width="1.15"/>
<circle cx="415" cy="362.4" r="3" fill="none" stroke="#000" stroke-width="1.15"/>
<circle cx="424.1" cy="365.1" r="3" fill="none" stroke="#000" stroke-width="1.15"/>
<circle cx="424.1" cy="379.8" r="3" fill="none" stroke="#000" stroke-width="1.15"/>
<circle cx="433.2" cy="378.2" r="3" fill="none" stroke="#000" stroke-width="1.15"/>
<line x1="404" y1="352" x2="444.6" y2="352" stroke="#000" stroke-width="2"/>
<rect x="480.45" y="354.75" width="5.9" height="5.9" fill="none" stroke="#000" stroke-width="1.2"/>
<rect x="466.25" y="374.55" width="5.9" height="5.9" fill="none" stroke="#000" stroke-width="1.2"/>
<rect x="470.85" y="377.35" width="5.9" height="5.9" fill="none" stroke="#000" stroke-width="1.2"/>
<rect x="475.25" y="374.85" width="5.9" height="5.9" fill="none" stroke="#000" stroke-width="1.2"/>
<rect x="479.55" y="377.35" width="5.9" height="5.9" fill="none" stroke="#000" stroke-width="1.2"/>
<rect x="483.85" y="374.85" width="5.9" height="5.9" fill="none" stroke="#000" stroke-width="1.2"/>
<rect x="488.05" y="377.35" width="5.9" height="5.9" fill="none" stroke="#000" stroke-width="1.2"/>
<rect x="492.35" y="374.55" width="5.9" height="5.9" fill="none" stroke="#000" stroke-width="1.2"/>
<line x1="463.4" y1="378.8" x2="503.7" y2="378.8" stroke="#000" stroke-width="2"/>
<text x="444.7" y="276.6" font-size="16.5" font-weight="bold" font-style="normal" text-anchor="start" fill="#111">Group B</text>
<text x="447.5" y="303" font-size="14.2" font-weight="normal" font-style="italic" text-anchor="start" fill="#111" stroke="#111" stroke-width="0.35">p=0.011</text>
<text x="365.4" y="398.8" font-size="14" font-weight="bold" font-style="normal" text-anchor="start" fill="#111">ELISA</text>
<text x="411.4" y="398.8" font-size="14" font-weight="bold" font-style="normal" text-anchor="start" fill="#111" letter-spacing="0.5">pos.</text>
<text x="468.8" y="398.8" font-size="14" font-weight="bold" font-style="normal" text-anchor="start" fill="#111" letter-spacing="0.8">neg.</text>
</g>
</svg>
</body></html>
